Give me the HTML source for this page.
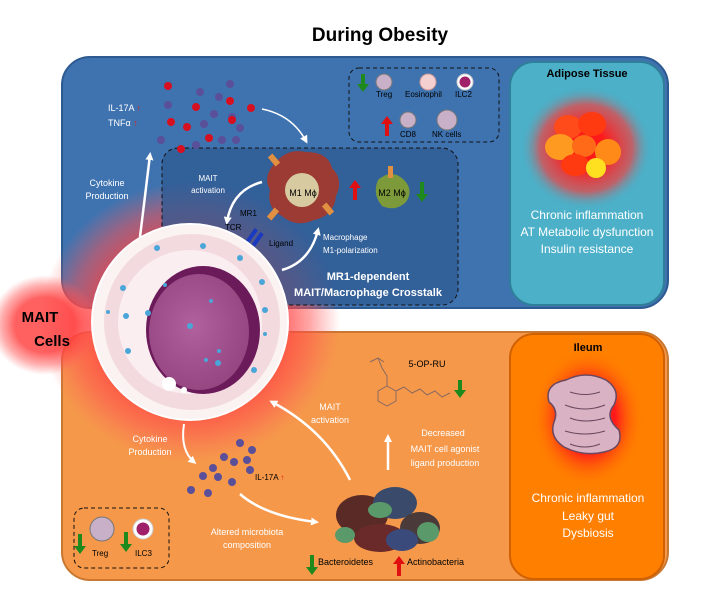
<!DOCTYPE html>
<html><head><meta charset="utf-8"><style>
html,body{margin:0;padding:0;background:#fff}
svg{display:block}
text{font-family:"Liberation Sans",sans-serif}
</style></head><body>
<svg width="720" height="603" viewBox="0 0 720 603" xmlns="http://www.w3.org/2000/svg">
<defs>
<radialGradient id="glow" cx="0.5" cy="0.5" r="0.5">
<stop offset="0.55" stop-color="#ff3b3b" stop-opacity="0.9"/>
<stop offset="0.8" stop-color="#ff5050" stop-opacity="0.5"/>
<stop offset="1" stop-color="#ff6060" stop-opacity="0"/>
</radialGradient>
<radialGradient id="adglow" cx="0.5" cy="0.5" r="0.5">
<stop offset="0.3" stop-color="#ff1a1a"/>
<stop offset="0.7" stop-color="#f04040" stop-opacity="0.7"/>
<stop offset="1" stop-color="#4bb0c8" stop-opacity="0"/>
</radialGradient>
<radialGradient id="ilglow" cx="0.5" cy="0.5" r="0.5">
<stop offset="0.5" stop-color="#ff1a1a"/>
<stop offset="1" stop-color="#ff7a00" stop-opacity="0"/>
</radialGradient>
<radialGradient id="nuc" cx="0.45" cy="0.45" r="0.6">
<stop offset="0" stop-color="#b0619e"/>
<stop offset="1" stop-color="#94447f"/>
</radialGradient>
<marker id="ah" markerWidth="8" markerHeight="8" refX="5" refY="4" orient="auto" markerUnits="userSpaceOnUse"><path d="M0,0 L8,4 L0,8 Z" fill="#fff"/></marker>
</defs>

<text x="380" y="41" text-anchor="middle" font-size="19" font-weight="bold" fill="#000">During Obesity</text>

<!-- top panel -->
<rect x="62" y="57" width="606" height="251" rx="28" fill="#3f73b0" stroke="#2d5a90" stroke-width="2"/>
<!-- bottom panel -->
<rect x="62" y="332" width="606" height="248" rx="28" fill="#f5984a" stroke="#c87830" stroke-width="2"/>

<!-- glow around cell -->
<ellipse cx="190" cy="322" rx="150" ry="140" fill="url(#glow)"/>
<ellipse cx="45" cy="325" rx="55" ry="50" fill="url(#glow)" opacity="0.9"/>

<!-- inner dashed box -->
<rect x="162" y="148" width="296" height="157" rx="16" fill="#2f5a92" fill-opacity="0.75" stroke="#111" stroke-dasharray="4,3"/>
<!-- top right dashed -->
<rect x="349" y="68" width="150" height="74" rx="10" fill="none" stroke="#111" stroke-dasharray="4,3"/>

<!-- adipose box -->
<rect x="510" y="62" width="154" height="243" rx="24" fill="#4bb0c8" stroke="#2f7f9a" stroke-width="2"/>
<ellipse cx="586" cy="148" rx="66" ry="62" fill="url(#adglow)"/>
<ellipse cx="568" cy="127" rx="14" ry="12" fill="#ff4a1a"/>
<ellipse cx="592" cy="124" rx="14" ry="12" fill="#ff3a10"/>
<ellipse cx="560" cy="147" rx="15" ry="13" fill="#ff9a20"/>
<ellipse cx="584" cy="146" rx="12" ry="11" fill="#ff6a18"/>
<ellipse cx="608" cy="152" rx="13" ry="13" fill="#ff8a18"/>
<ellipse cx="575" cy="165" rx="14" ry="11" fill="#ff3a10"/>
<ellipse cx="596" cy="168" rx="10" ry="10" fill="#ffe020"/>
<text x="587" y="77" text-anchor="middle" font-size="11" font-weight="bold" fill="#000">Adipose Tissue</text>
<g font-size="12" fill="#fff" text-anchor="middle">
<text x="587" y="219">Chronic inflammation</text>
<text x="587" y="236">AT Metabolic dysfunction</text>
<text x="587" y="253">Insulin resistance</text>
</g>

<!-- ileum box -->
<rect x="510" y="334" width="154" height="245" rx="24" fill="#ff7f00" stroke="#d06000" stroke-width="2"/>
<ellipse cx="588" cy="418" rx="55" ry="68" fill="url(#ilglow)"/>
<path d="M566,380 q20,-10 40,0 q15,10 8,25 q-10,12 5,25 q5,18 -15,22 q-20,5 -40,-5 q-15,-10 -10,-25 q5,-12 -5,-20 q-5,-18 17,-22 z" fill="#d9b3c4" stroke="#6b4860" stroke-width="1.5"/>
<path d="M570,392 q15,5 30,0 M565,405 q20,8 40,0 M570,418 q15,6 35,0 M565,431 q20,6 40,0 M570,444 q15,6 30,0" stroke="#6b4860" fill="none"/>
<text x="588" y="351" text-anchor="middle" font-size="11" font-weight="bold" fill="#000">Ileum</text>
<g font-size="12" fill="#fff" text-anchor="middle">
<text x="588" y="502">Chronic inflammation</text>
<text x="588" y="520">Leaky gut</text>
<text x="588" y="537">Dysbiosis</text>
</g>

<!-- cytokine dots top -->
<g>
<circle cx="168" cy="86" r="4" fill="#d61020"/><circle cx="230" cy="84" r="4" fill="#5a4f99"/>
<circle cx="200" cy="92" r="4" fill="#5a4f99"/><circle cx="219" cy="97" r="4" fill="#5a4f99"/>
<circle cx="168" cy="105" r="4" fill="#5a4f99"/><circle cx="196" cy="107" r="4" fill="#d61020"/>
<circle cx="230" cy="101" r="4" fill="#d61020"/><circle cx="251" cy="108" r="4" fill="#d61020"/>
<circle cx="214" cy="114" r="4" fill="#5a4f99"/><circle cx="232" cy="117" r="4" fill="#5a4f99"/>
<circle cx="171" cy="122" r="4" fill="#d61020"/><circle cx="187" cy="127" r="4" fill="#d61020"/>
<circle cx="204" cy="124" r="4" fill="#5a4f99"/><circle cx="232" cy="120" r="4" fill="#d61020"/>
<circle cx="240" cy="128" r="4" fill="#5a4f99"/><circle cx="161" cy="140" r="4" fill="#5a4f99"/>
<circle cx="209" cy="138" r="4" fill="#d61020"/><circle cx="222" cy="140" r="4" fill="#5a4f99"/>
<circle cx="236" cy="140" r="4" fill="#5a4f99"/><circle cx="181" cy="149" r="4" fill="#d61020"/>
<circle cx="196" cy="145" r="4" fill="#5a4f99"/>
</g>
<text x="108" y="111" font-size="9" fill="#fff">IL-17A <tspan fill="#e02020">↑</tspan></text>
<text x="108" y="126" font-size="9" fill="#fff">TNFα <tspan fill="#e02020">↑</tspan></text>
<path d="M262,109 q30,6 44,32" stroke="#fff" stroke-width="1.5" fill="none" marker-end="url(#ah)"/>
<path d="M140,237 L150,155" stroke="#fff" stroke-width="2.5" fill="none" marker-end="url(#ah)"/>
<text x="107" y="186" font-size="9" fill="#fff" text-anchor="middle">Cytokine</text>
<text x="107" y="199" font-size="9" fill="#fff" text-anchor="middle">Production</text>

<!-- cells top-right -->
<path d="M361,74 v10 h-4 l6,8 l6,-8 h-4 v-10 z" fill="#1e8a1e"/>
<path d="M385,136 v-12 h-4 l6,-8 l6,8 h-4 v12 z" fill="#e01010"/>
<circle cx="384" cy="82" r="8" fill="#c8b0c8" stroke="#777"/>
<circle cx="428" cy="82" r="8" fill="#f5d0d0" stroke="#c99"/>
<circle cx="465" cy="82" r="8" fill="#fff" stroke="#ccc"/><circle cx="465" cy="82" r="5.5" fill="#a0206a"/>
<circle cx="408" cy="120" r="8" fill="#c8b0c8" stroke="#777"/>
<circle cx="447" cy="120" r="10" fill="#c8b0c8" stroke="#777"/>
<g font-size="8" fill="#000"><text x="376" y="97">Treg</text><text x="405" y="97">Eosinophil</text><text x="455" y="97">ILC2</text>
<text x="400" y="137">CD8</text><text x="432" y="137">NK cells</text></g>

<!-- macrophages -->
<path d="M276,162 q12,-14 30,-10 q22,0 26,16 q12,12 4,28 q-2,20 -22,24 q-18,8 -32,-4 q-16,-8 -12,-26 q-8,-14 6,-28 z" fill="#9c3a34"/>
<ellipse cx="302" cy="190" rx="17" ry="17" fill="#d8caa0"/>
<text x="303" y="196" font-size="9" text-anchor="middle" fill="#000">M1 Mϕ</text>
<rect x="271" y="154" width="6" height="12" fill="#e09040" transform="rotate(-40 274 160)"/>
<rect x="325" y="203" width="6" height="12" fill="#e09040" transform="rotate(-40 328 209)"/>
<rect x="270" y="208" width="6" height="12" fill="#e09040" transform="rotate(40 273 214)"/>
<path d="M378,180 q14,-12 26,0 q10,10 2,22 q-10,10 -24,4 q-10,-12 -4,-26 z" fill="#7d9a3a"/>
<rect x="388" y="166" width="5" height="12" fill="#e09040"/>
<text x="392" y="196" font-size="9" text-anchor="middle" fill="#000">M2 Mϕ</text>
<path d="M353,200 v-12 h-4 l6,-8 l6,8 h-4 v12 z" fill="#e01010"/>
<path d="M420,182 v12 h-4 l6,8 l6,-8 h-4 v-12 z" fill="#1e8a1e"/>
<text x="208" y="181" font-size="8" fill="#fff" text-anchor="middle">MAIT</text>
<text x="208" y="193" font-size="8" fill="#fff" text-anchor="middle">activation</text>
<path d="M262,182 q-30,8 -35,40" stroke="#fff" stroke-width="2.5" fill="none" marker-end="url(#ah)"/>
<text x="240" y="216" font-size="8" fill="#000">MR1</text>
<text x="225" y="230" font-size="8" fill="#000">TCR</text>
<text x="269" y="246" font-size="8" fill="#000">Ligand</text>
<g transform="rotate(35 255 238)"><rect x="249" y="230" width="4" height="15" fill="#1a3ac0"/><rect x="256" y="230" width="4" height="15" fill="#1a3ac0"/></g>
<path d="M282,270 q28,-8 36,-40" stroke="#fff" stroke-width="2.5" fill="none" marker-end="url(#ah)"/>
<text x="323" y="240" font-size="8" fill="#fff">Macrophage</text>
<text x="323" y="253" font-size="8" fill="#fff">M1-polarization</text>

<!-- MAIT cell -->
<circle cx="190" cy="322" r="98" fill="#fbf2f2" stroke="#fff" stroke-width="2"/>
<circle cx="192" cy="322" r="88" fill="#f3dadf"/>
<circle cx="190" cy="322" r="72" fill="#fbeef0"/>
<ellipse cx="203" cy="330" rx="57" ry="64" fill="#6b1a5a"/>
<ellipse cx="199" cy="332" rx="50" ry="58" fill="url(#nuc)"/>
<g fill="#4aa6d8">
<circle cx="157" cy="248" r="3"/><circle cx="203" cy="246" r="3"/><circle cx="240" cy="258" r="3"/><circle cx="262" cy="282" r="3"/>
<circle cx="123" cy="288" r="3"/><circle cx="165" cy="285" r="2"/><circle cx="265" cy="310" r="3"/><circle cx="108" cy="312" r="2"/>
<circle cx="126" cy="316" r="3"/><circle cx="148" cy="313" r="3"/><circle cx="128" cy="351" r="3"/><circle cx="254" cy="370" r="3"/>
<circle cx="190" cy="326" r="3"/><circle cx="211" cy="301" r="2"/><circle cx="219" cy="351" r="2"/><circle cx="218" cy="363" r="3"/><circle cx="206" cy="360" r="2"/>
<circle cx="265" cy="334" r="2"/>
</g>
<circle cx="169" cy="384" r="7" fill="#fff"/><circle cx="184" cy="390" r="3" fill="#fff"/>

<text x="368" y="280" font-size="11" fill="#fff" font-weight="bold" text-anchor="middle">MR1-dependent</text>
<text x="368" y="296" font-size="11" fill="#fff" font-weight="bold" text-anchor="middle">MAIT/Macrophage Crosstalk</text>

<text x="40" y="322" font-size="15" font-weight="bold" fill="#000" text-anchor="middle">MAIT</text>
<text x="52" y="346" font-size="15" font-weight="bold" fill="#000" text-anchor="middle">Cells</text>

<!-- bottom contents -->
<text x="150" y="442" font-size="9" fill="#fff" text-anchor="middle">Cytokine</text>
<text x="150" y="455" font-size="9" fill="#fff" text-anchor="middle">Production</text>
<path d="M184,424 q-4,26 10,38" stroke="#fff" stroke-width="2" fill="none" marker-end="url(#ah)"/>
<g fill="#5a4f99">
<circle cx="240" cy="443" r="4"/><circle cx="252" cy="450" r="4"/><circle cx="224" cy="457" r="4"/><circle cx="234" cy="462" r="4"/>
<circle cx="247" cy="460" r="4"/><circle cx="213" cy="468" r="4"/><circle cx="250" cy="470" r="4"/><circle cx="203" cy="476" r="4"/>
<circle cx="218" cy="477" r="4"/><circle cx="232" cy="482" r="4"/><circle cx="191" cy="490" r="4"/><circle cx="208" cy="493" r="4"/>
</g>
<text x="255" y="480" font-size="8" fill="#000">IL-17A <tspan fill="#e02020">↑</tspan></text>
<path d="M240,494 q25,22 76,28" stroke="#fff" stroke-width="2.5" fill="none" marker-end="url(#ah)"/>
<text x="247" y="535" font-size="9" fill="#fff" text-anchor="middle">Altered microbiota</text>
<text x="247" y="548" font-size="9" fill="#fff" text-anchor="middle">composition</text>
<path d="M350,480 q-25,-50 -78,-78" stroke="#fff" stroke-width="2.5" fill="none" marker-end="url(#ah)"/>
<text x="330" y="410" font-size="9" fill="#fff" text-anchor="middle">MAIT</text>
<text x="330" y="423" font-size="9" fill="#fff" text-anchor="middle">activation</text>
<!-- microbes -->
<g>
<ellipse cx="362" cy="515" rx="26" ry="20" fill="#5a2a26"/>
<ellipse cx="395" cy="503" rx="22" ry="16" fill="#3a4a6a"/>
<ellipse cx="420" cy="528" rx="20" ry="16" fill="#4a3a3a"/>
<ellipse cx="380" cy="538" rx="26" ry="14" fill="#6a2a2a"/>
<ellipse cx="402" cy="540" rx="16" ry="11" fill="#3a4a7a"/>
<ellipse cx="380" cy="510" rx="12" ry="8" fill="#5a9a6a"/>
<ellipse cx="428" cy="532" rx="11" ry="10" fill="#5a9a6a"/>
<ellipse cx="345" cy="535" rx="10" ry="8" fill="#5a9a6a"/>
</g>
<path d="M310,555 v12 h-4 l6,8 l6,-8 h-4 v-12 z" fill="#1e8a1e"/>
<path d="M397,576 v-12 h-4 l6,-8 l6,8 h-4 v12 z" fill="#e01010"/>
<text x="318" y="565" font-size="9" fill="#000">Bacteroidetes</text>
<text x="407" y="565" font-size="9" fill="#000">Actinobacteria</text>

<path d="M388,470 v-33" stroke="#fff" stroke-width="2.5" marker-end="url(#ah)"/>
<text x="443" y="436" font-size="9" fill="#fff" text-anchor="middle">Decreased</text>
<text x="445" y="452" font-size="9" fill="#fff" text-anchor="middle">MAIT cell agonist</text>
<text x="445" y="466" font-size="9" fill="#fff" text-anchor="middle">ligand production</text>
<text x="427" y="367" font-size="9" fill="#000" text-anchor="middle">5-OP-RU</text>
<path d="M370,362 l8,-4 l6,4 M378,358 l4,10 l5,8 v10 M387,386 l-9,5 v10 l9,5 l9,-5 v-10 l-9,-5 M396,391 l8,-4 l8,6 l8,-4 l7,6 l8,-4 l7,6 l8,-4" stroke="#8a6a60" fill="none" stroke-width="1"/>
<path d="M458,380 v10 h-4 l6,8 l6,-8 h-4 v-10 z" fill="#1e8a1e"/>

<!-- Treg/ILC3 box -->
<rect x="74" y="508" width="95" height="60" rx="10" fill="none" stroke="#111" stroke-dasharray="4,3"/>
<circle cx="102" cy="529" r="12" fill="#c8b0c8" stroke="#777"/>
<circle cx="143" cy="529" r="10" fill="#fff" stroke="#ccc"/><circle cx="143" cy="529" r="6.5" fill="#a0206a"/>
<path d="M78,534 v12 h-4 l6,8 l6,-8 h-4 v-12 z" fill="#1e8a1e"/>
<path d="M124,532 v12 h-4 l6,8 l6,-8 h-4 v-12 z" fill="#1e8a1e"/>
<text x="92" y="556" font-size="8" fill="#000">Treg</text>
<text x="135" y="556" font-size="8" fill="#000">ILC3</text>
</svg>
</body></html>
